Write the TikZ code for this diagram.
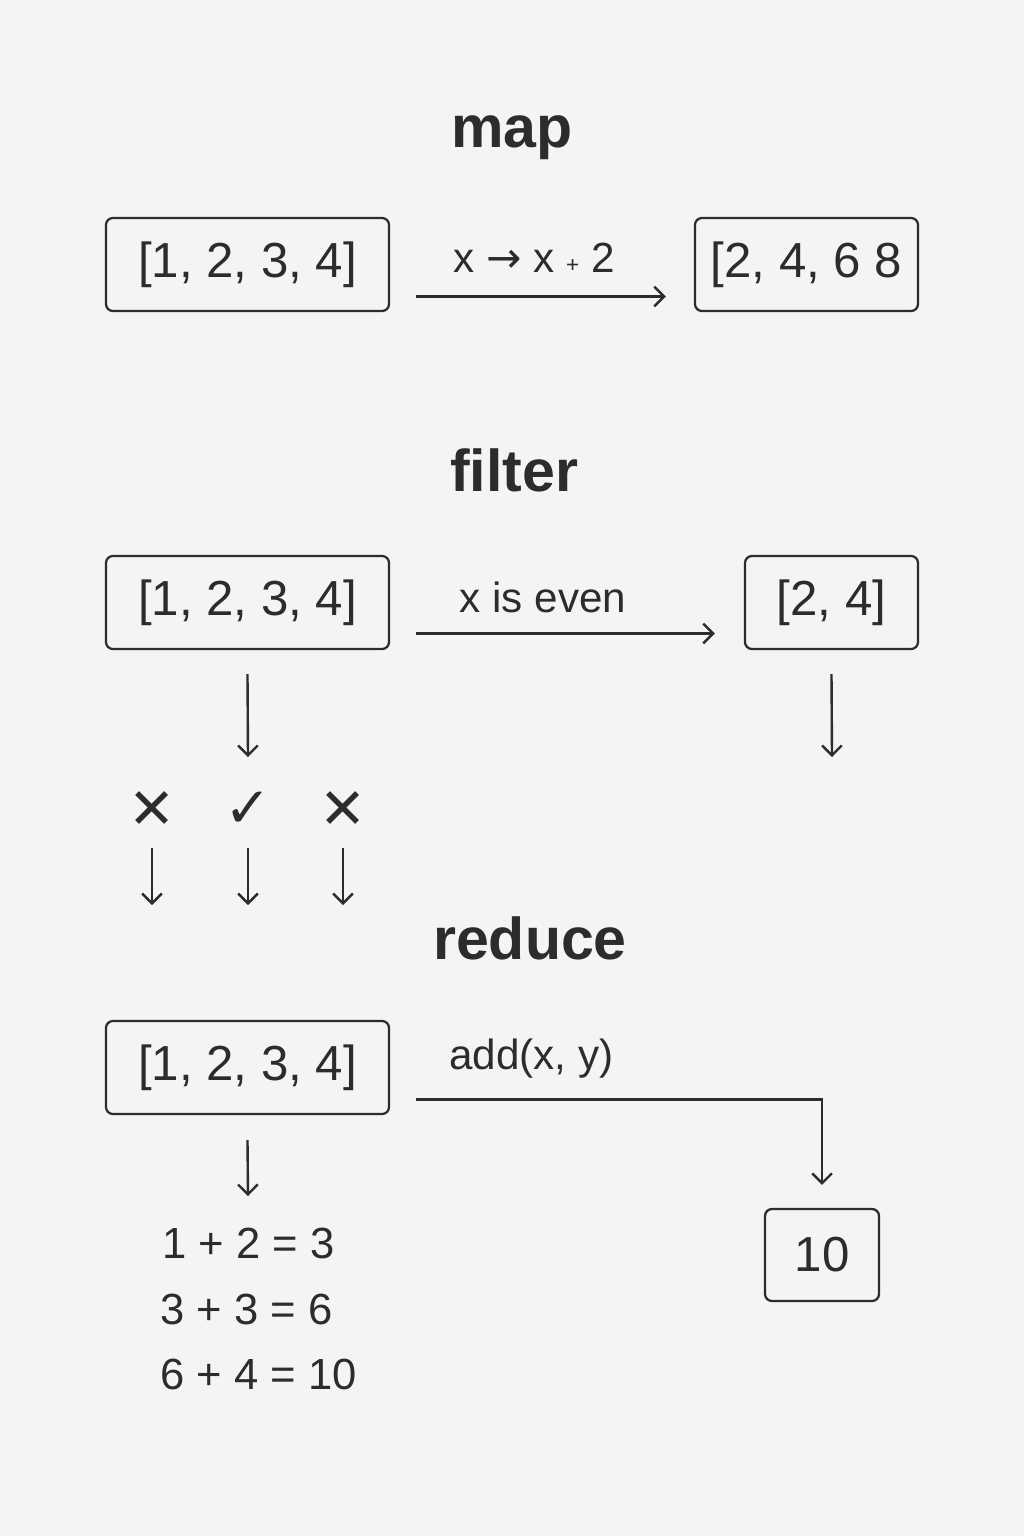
\documentclass[tikz,border=0pt]{standalone}
\usepackage{fontspec}
\setmainfont{Liberation Sans}
\newfontfamily\symbolfont{DejaVu Sans}
\usepackage{xcolor}
\usetikzlibrary{arrows.meta, positioning, calc}
\definecolor{InkDark}{HTML}{2A2C2E}
\definecolor{PaperGrey}{HTML}{F4F4F4}

\begin{document}
\begin{tikzpicture}[
    x=0.025cm, y=-0.025cm,
    listbox/.style={draw=InkDark, fill=PaperGrey, rounded corners=5pt, line width=1.6pt, minimum height=2.325cm, inner sep=0pt, text=InkDark, font=\fontsize{35}{42}\selectfont},
    optitle/.style={text=InkDark, font=\bfseries\fontsize{42}{50}\selectfont},
    oplabel/.style={text=InkDark, font=\fontsize{30}{36}\selectfont},
    steptext/.style={text=InkDark, anchor=west, inner sep=0pt, font=\fontsize{31}{36}\selectfont},
    checkglyph/.style={text=InkDark, inner sep=0pt, font=\symbolfont\fontsize{40}{44}\selectfont},
    arrow/.style={-{Straight Barb[length=7pt, width=14pt]}, line width=1.7pt, draw=InkDark}
]
\useasboundingbox[fill=PaperGrey] (0,0) rectangle (1024,1536);

% map row
\node[optitle] (T1) at (512,138) {map};
\node[listbox, minimum width=7.075cm] (M1) at (247.5,264.5) {[1, 2, 3, 4]};
\node[listbox, minimum width=5.575cm] (M2) at (806.5,264.5) {[2, 4, 6 8};
\node[oplabel] (L1) at (534,258) {x {\symbolfont→} x {\fontsize{16}{16}\selectfont+} 2};

% filter row
\node[optitle] (T2) at (514,470) {filter};
\node[listbox, minimum width=7.075cm] (F1) at (247.5,602.5) {[1, 2, 3, 4]};
\node[listbox, minimum width=4.325cm] (F2) at (831.5,602.5) {[2, 4]};
\node[oplabel] (L2) at (543,597) {x is even};

% keep / drop marks under the filter input
\node[checkglyph] (X1) at (152,810) {✕};
\node[checkglyph] (X2) at (248,810) {✓};
\node[checkglyph] (X3) at (343,810) {✕};

% reduce row
\node[optitle] (T3) at (530,938) {reduce};
\node[listbox, minimum width=7.075cm] (R1) at (247.5,1067.5) {[1, 2, 3, 4]};
\node[listbox, minimum width=2.85cm, minimum height=2.3cm] (R2) at (822,1255) {10};
\node[oplabel, anchor=west, inner sep=0pt] (L3) at (449,1059) {add(x, y)};

% running sums
\node[steptext] (E1) at (162,1243) {1 + 2 = 3};
\node[steptext] (E2) at (160,1309) {3 + 3 = 6};
\node[steptext] (E3) at (160,1374) {6 + 4 = 10};

% free arrow ends
\coordinate (F1d) at (248,757);
\coordinate (F2d) at (832,757);
\coordinate (X1d) at (152,905);
\coordinate (X2d) at (248,905);
\coordinate (X3d) at (343,905);
\coordinate (R1d) at (248,1196);

% connectors
\draw[arrow] ($(M1.east)+(26,32)$) -- ($(M2.west)+(-28,32)$);
\draw[arrow] ($(F1.east)+(26,31)$) -- ($(F2.west)+(-29,31)$);
\draw[arrow] ($(F1.south)+(0,24)$) -- (F1d);
\draw[arrow] ($(F2.south)+(0,24)$) -- (F2d);
\draw[arrow] ($(X1)+(0,38)$) -- (X1d);
\draw[arrow] ($(X2)+(0,38)$) -- (X2d);
\draw[arrow] ($(X3)+(0,38)$) -- (X3d);
\draw[arrow] ($(R1.east)+(26,32)$) -| ($(R2.north)+(0,-23)$);
\draw[arrow] ($(R1.south)+(0,25)$) -- (R1d);

\end{tikzpicture}
\end{document}
